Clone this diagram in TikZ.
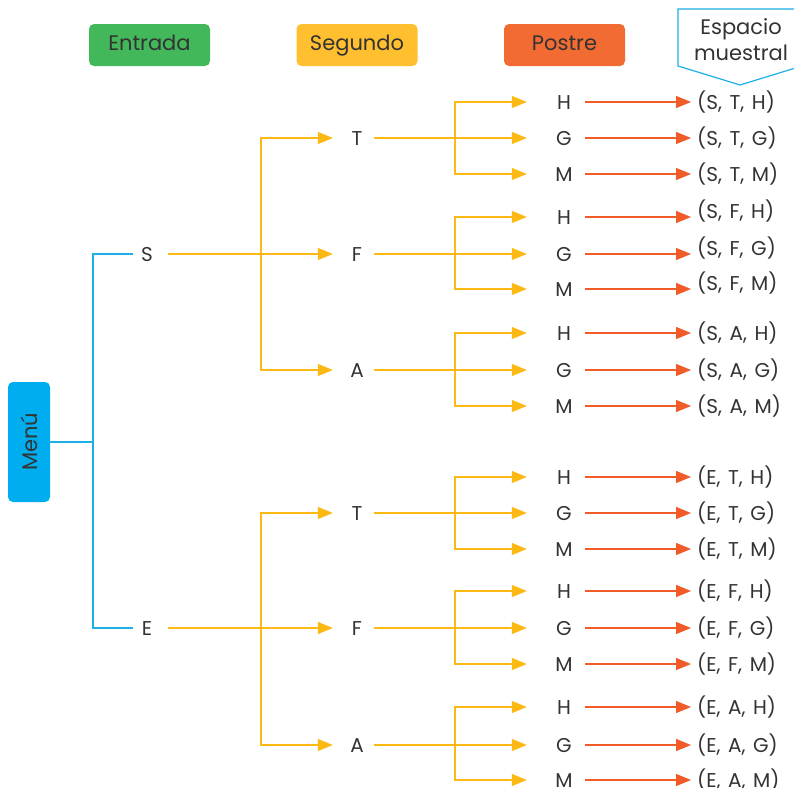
\documentclass[tikz,border=0pt]{standalone}
\usepackage{fontspec}
\setmainfont{Poppins}
\usetikzlibrary{arrows.meta}
\definecolor{cgreen}{HTML}{43B85A}
\definecolor{cyelbox}{HTML}{FFBF2F}
\definecolor{cyel}{HTML}{FDB913}
\definecolor{corange}{HTML}{F26B32}
\definecolor{cred}{HTML}{F15A29}
\definecolor{cblue}{HTML}{1CB0E6}
\definecolor{cmenu}{HTML}{00AEEF}
\definecolor{ctext}{HTML}{333333}
\newcommand{\csep}{,\hspace{0.38em}}
\begin{document}
\begin{tikzpicture}[x=1pt,y=-1pt,
  txt/.style={text=ctext, font=\fontsize{20}{23}\selectfont, inner sep=0pt, text height=14pt, text depth=0pt},
  lvlone/.style={txt, minimum width=28pt},
  lvltwo/.style={txt, minimum width=34pt},
  lvlthree/.style={txt, minimum width=42pt},
  outc/.style={txt, anchor=west},
  hdr/.style={rounded corners=5pt, minimum width=121pt, minimum height=42pt, inner sep=0pt,
    font=\fontsize{21}{24}\selectfont, text=ctext, text height=15pt, text depth=4pt},
  yln/.style={draw=cyel, line width=1.3pt},
  yar/.style={yln, -{Triangle[length=15pt,width=12pt]}},
  rar/.style={draw=cred, line width=1.3pt, -{Triangle[length=15pt,width=12pt]}, shorten >=6pt},
  bln/.style={draw=cblue, line width=1.3pt}]
\useasboundingbox (0,0) rectangle (794,787);

% headers
\node[hdr, fill=cgreen] (hEntrada) at (149.5,45) {Entrada};
\node[hdr, fill=cyelbox] (hSegundo) at (357,45) {Segundo};
\node[hdr, fill=corange] (hPostre) at (564.5,45) {Postre};
\draw[cblue, line width=1.2pt, fill=white] (678,9) -- (678,66) -- (740,85) -- (802,66) -- (802,9) -- cycle;
\node[text=ctext, font=\fontsize{21}{26}\selectfont, align=center, inner sep=0pt] (hEsp) at (741,40) {Espacio\\muestral};

% menu
\node[fill=cmenu, rounded corners=5pt, minimum width=120pt, minimum height=42pt, inner sep=0pt,
  rotate=90, text=ctext, font=\fontsize{21}{24}\selectfont] (menu) at (29,442) {Menú};
\coordinate (jm) at (93,442);

% level one
\node[lvlone] (S) at (147,254) {S};
\node[lvlone] (E) at (147,628) {E};
\draw[bln] (menu.south) -- (jm);
\draw[bln] (jm) |- (S.west);
\draw[bln] (jm) |- (E.west);

% level two
\foreach \n/\l/\y in {T1/T/138, F1/F/254, A1/A/370, T2/T/513, F2/F/628, A2/A/745}{
  \node[lvltwo] (\n) at (357,\y) {\l};
}
\coordinate (jS) at (261,254);
\coordinate (jE) at (261,628);
\draw[yar] ([xshift=7pt]S.east) -- ([xshift=-7pt]F1.west);
\draw[yar] (jS) |- ([xshift=-7pt]T1.west);
\draw[yar] (jS) |- ([xshift=-7pt]A1.west);
\draw[yar] ([xshift=7pt]E.east) -- ([xshift=-7pt]F2.west);
\draw[yar] (jE) |- ([xshift=-7pt]T2.west);
\draw[yar] (jE) |- ([xshift=-7pt]A2.west);

% level three and outcomes
\foreach \g/\a/\b/\c/\ya/\yb/\yc/\yo/\lab in {
  T1/1/2/3/102/138/174/0/{S\csep T},
  F1/4/5/6/217/254/289/-6/{S\csep F},
  A1/7/8/9/333/370/406/0/{S\csep A},
  T2/10/11/12/477/513/549/0/{E\csep T},
  F2/13/14/15/591/628/664/0/{E\csep F},
  A2/16/17/18/707/745/780/0/{E\csep A}}{
  \coordinate (j\g) at (455,\yb);
  \node[lvlthree] (p\a) at (564,\ya) {H};
  \node[lvlthree] (p\b) at (564,\yb) {G};
  \node[lvlthree] (p\c) at (564,\yc) {M};
  \node[outc] (o\a) at (697,\ya+\yo) {(\lab\csep H)};
  \node[outc] (o\b) at (697,\yb+\yo) {(\lab\csep G)};
  \node[outc] (o\c) at (697,\yc+\yo) {(\lab\csep M)};
  \draw[yln] (\g.east) -- (j\g);
  \draw[yar] (j\g) -- ([xshift=-16pt]p\b.west);
  \draw[yar] (j\g) |- ([xshift=-16pt]p\a.west);
  \draw[yar] (j\g) |- ([xshift=-16pt]p\c.west);
  \draw[rar] (p\a.east) -- (p\a.east -| o\a.west);
  \draw[rar] (p\b.east) -- (p\b.east -| o\b.west);
  \draw[rar] (p\c.east) -- (p\c.east -| o\c.west);
}
\end{tikzpicture}
\end{document}
